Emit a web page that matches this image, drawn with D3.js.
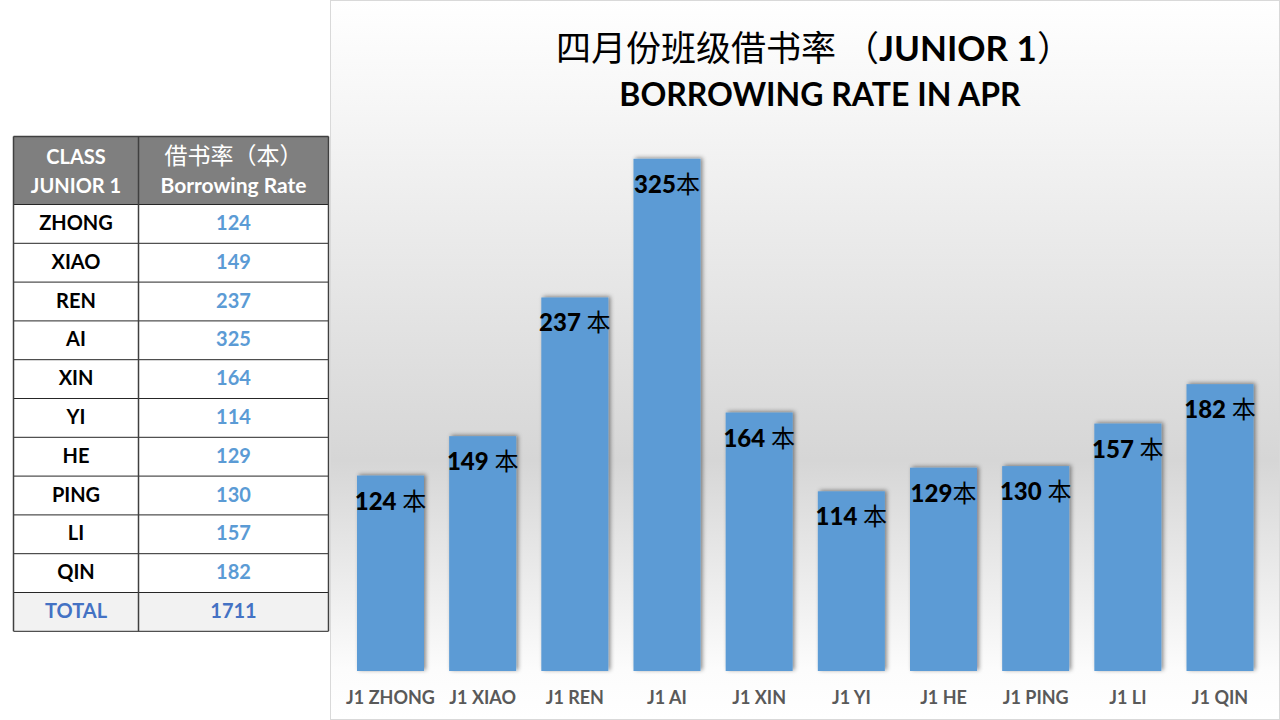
<!DOCTYPE html>
<html>
<head>
<meta charset="utf-8">
<script src="https://cdn.jsdelivr.net/npm/d3@7"></script>
<style>
  body { margin: 0; background: #ffffff; }
  svg { display: block; }
</style>
</head>
<body>
<svg id="chart" width="1280" height="720"></svg>
<script>
// data
const classNames = ["ZHONG", "XIAO", "REN", "AI", "XIN", "YI", "HE", "PING", "LI", "QIN"];
const barLabels = ["J1 ZHONG", "J1 XIAO", "J1 REN", "J1 AI", "J1 XIN", "J1 YI", "J1 HE", "J1 PING", "J1 LI", "J1 QIN"];
const rates = [124, 149, 237, 325, 164, 114, 129, 130, 157, 182];
const valueLabels = ["124 本", "149 本", "237 本", "325本", "164 本", "114 本", "129本", "130 本", "157 本", "182 本"];
const headerLeft = ["CLASS", "JUNIOR 1"];
const headerRight = ["借书率（本）", "Borrowing Rate"];

const svg = d3.select("#chart");
const font_latin = "Lato, 'Open Sans', sans-serif";
const font_cjk = "'Noto Sans CJK SC', sans-serif";

// ---------- chart panel ----------
const defs = svg.append("defs");
const grad = defs.append("linearGradient")
    .attr("id", "bg_grad")
    .attr("x1", 0).attr("y1", 0).attr("x2", 0).attr("y2", 1);
[[0, "#ffffff"], [0.15, "#f6f6f6"], [0.64, "#d6d6d6"], [0.93, "#fcfcfc"], [1, "#ffffff"]]
    .forEach(s => grad.append("stop").attr("offset", s[0]).attr("stop-color", s[1]));

const shadow = defs.append("filter")
    .attr("id", "bar_shadow")
    .attr("x", "-20%").attr("y", "-10%").attr("width", "140%").attr("height", "120%");
shadow.append("feDropShadow")
    .attr("dx", 2).attr("dy", -1)
    .attr("stdDeviation", 2)
    .attr("flood-color", "#000000")
    .attr("flood-opacity", 0.45);

svg.append("rect")
    .attr("x", 330.5).attr("y", 0.5)
    .attr("width", 949).attr("height", 719)
    .attr("fill", "url(#bg_grad)")
    .attr("stroke", "#d9d9d9")
    .attr("stroke-width", 1);

// title
const title1 = svg.append("text")
    .attr("x", 814).attr("y", 61)
    .attr("text-anchor", "middle")
    .attr("fill", "#000000")
    .style("font-size", "35px");
title1.append("tspan").style("font-family", font_cjk).text("四月份班级借书率 （");
title1.append("tspan").style("font-family", font_latin).style("font-weight", "bold").text("JUNIOR 1");
title1.append("tspan").style("font-family", font_cjk).text("）");

svg.append("text")
    .attr("x", 820).attr("y", 106)
    .attr("text-anchor", "middle")
    .attr("fill", "#000000")
    .style("font-family", font_latin)
    .style("font-weight", "bold")
    .style("font-size", "32px")
    .text("BORROWING RATE IN APR");

// scales
const x = d3.scaleBand()
    .domain(barLabels)
    .range([344.4, 1266.1])
    .paddingInner(0.273)
    .paddingOuter(0.1365);

const y = d3.scaleLinear()
    .domain([0, 350])
    .range([671, 119.4]);

const g_bars = svg.append("g").classed("g_bars", true);
g_bars.selectAll("rect")
    .data(rates)
    .join("rect")
    .attr("x", (d, i) => x(barLabels[i]))
    .attr("y", d => y(d))
    .attr("width", x.bandwidth())
    .attr("height", d => y(0) - y(d))
    .attr("fill", "#5b9bd5")
    .attr("filter", "url(#bar_shadow)");

// value labels
const g_vals = svg.append("g").classed("g_vals", true);
g_vals.selectAll("text")
    .data(rates)
    .join("text")
    .attr("x", (d, i) => x(barLabels[i]) + x.bandwidth() / 2)
    .attr("y", d => y(d) + 34)
    .attr("text-anchor", "middle")
    .attr("fill", "#000000")
    .style("font-size", "24px")
    .each(function (d, i) {
        const parts = valueLabels[i].split("本");
        const t = d3.select(this);
        t.append("tspan").style("font-family", font_latin).style("font-weight", "900").text(parts[0]);
        t.append("tspan").style("font-family", font_cjk).text("本");
    });

// x axis
const xAxis = d3.axisBottom(x).tickSize(0).tickPadding(0);
const g_axis = svg.append("g")
    .attr("transform", "translate(0, 671)")
    .call(xAxis);
g_axis.select(".domain").remove();
g_axis.selectAll("text")
    .attr("dy", 0)
    .attr("y", 33)
    .attr("fill", "#595959")
    .style("font-family", font_latin)
    .style("font-weight", "bold")
    .style("font-size", "18px");

// ---------- table ----------
const tbl_x = 13.5, tbl_col = 138.5, tbl_right = 328.5;
const tbl_top = 136.5, head_h = 68, row_h = 38.8;
const tableRows = classNames.map((n, i) => ({ name: n, value: rates[i], total: false }));
tableRows.push({ name: "TOTAL", value: d3.sum(rates), total: true });

const g_tbl = svg.append("g").classed("g_table", true);
g_tbl.append("rect")
    .attr("x", tbl_x).attr("y", tbl_top)
    .attr("width", tbl_right - tbl_x).attr("height", head_h)
    .attr("fill", "#7f7f7f");

const rowY = i => tbl_top + head_h + i * row_h;

g_tbl.selectAll("rect.row_bg")
    .data(tableRows)
    .join("rect")
    .classed("row_bg", true)
    .attr("x", tbl_x).attr("y", (d, i) => rowY(i))
    .attr("width", tbl_right - tbl_x).attr("height", row_h)
    .attr("fill", d => d.total ? "#f2f2f2" : "#ffffff");

// header text
[headerLeft, headerRight].forEach((lines, c) => {
    const cx = c == 0 ? (tbl_x + tbl_col) / 2 : (tbl_col + tbl_right) / 2;
    lines.forEach((line, j) => {
        const cjk = /[\u4e00-\u9fff]/.test(line);
        g_tbl.append("text")
            .attr("x", cx).attr("y", tbl_top + 27 + j * 29)
            .attr("text-anchor", "middle")
            .attr("fill", "#ffffff")
            .style("font-family", cjk ? font_cjk : font_latin)
            .style("font-weight", cjk ? "normal" : "bold")
            .style("font-size", cjk ? "23px" : (c == 0 ? "20px" : "21px"))
            .text(line);
    });
});

g_tbl.selectAll("text.cell_name")
    .data(tableRows)
    .join("text")
    .classed("cell_name", true)
    .attr("x", (tbl_x + tbl_col) / 2)
    .attr("y", (d, i) => rowY(i) + row_h / 2 + 6)
    .attr("text-anchor", "middle")
    .attr("fill", d => d.total ? "#4472c4" : "#000000")
    .style("font-family", font_latin)
    .style("font-weight", "bold")
    .style("font-size", "20px")
    .text(d => d.name);

g_tbl.selectAll("text.cell_val")
    .data(tableRows)
    .join("text")
    .classed("cell_val", true)
    .attr("x", (tbl_col + tbl_right) / 2)
    .attr("y", (d, i) => rowY(i) + row_h / 2 + 6)
    .attr("text-anchor", "middle")
    .attr("fill", d => d.total ? "#4472c4" : "#5b9bd5")
    .style("font-family", font_latin)
    .style("font-weight", "bold")
    .style("font-size", "20px")
    .text(d => d.value);

// grid lines
const hLines = d3.range(tableRows.length + 1).map(i => rowY(i));
g_tbl.selectAll("line.h")
    .data(hLines)
    .join("line")
    .classed("h", true)
    .attr("x1", tbl_x).attr("x2", tbl_right)
    .attr("y1", d => d).attr("y2", d => d)
    .attr("stroke", "#262626").attr("stroke-width", 1);
g_tbl.append("line")
    .attr("x1", tbl_x).attr("x2", tbl_right)
    .attr("y1", tbl_top).attr("y2", tbl_top)
    .attr("stroke", "#404040").attr("stroke-width", 1.5);
[tbl_x, tbl_col, tbl_right].forEach(xx => {
    g_tbl.append("line")
        .attr("x1", xx).attr("x2", xx)
        .attr("y1", tbl_top).attr("y2", rowY(tableRows.length))
        .attr("stroke", "#404040").attr("stroke-width", 1.5);
});
</script>
</body>
</html>
